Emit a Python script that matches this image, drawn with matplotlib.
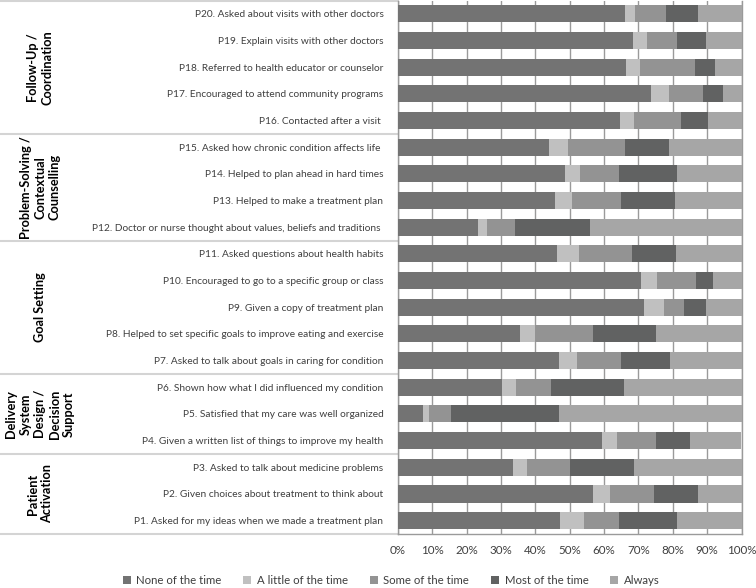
import matplotlib
matplotlib.use("Agg")
import matplotlib.pyplot as plt
import matplotlib.transforms as mtransforms
from matplotlib.patches import Patch
import numpy as np

plt.rcParams['font.family'] = ['Lato', 'DejaVu Sans']

# items, bottom (P1) to top (P20)
items = [
    "P1. Asked for my ideas when we made a treatment plan",
    "P2. Given choices about treatment to think about",
    "P3. Asked to talk about medicine problems",
    "P4. Given a written list of things to improve my health",
    "P5. Satisfied that my care was well organized",
    "P6. Shown how what I did influenced my condition",
    "P7. Asked to talk about goals in caring for condition",
    "P8. Helped to set specific goals to improve eating and exercise",
    "P9. Given a copy of treatment plan",
    "P10. Encouraged to go to a specific group or class",
    "P11. Asked questions about health habits",
    "P12. Doctor or nurse thought about values, beliefs and traditions ",
    "P13. Helped to make a treatment plan",
    "P14. Helped to plan ahead in hard times",
    "P15. Asked how chronic condition affects life ",
    "P16. Contacted after a visit ",
    "P17. Encouraged to attend community programs",
    "P18. Referred to health educator or counselor",
    "P19. Explain visits with other doctors",
    "P20. Asked about visits with other doctors",
]

none_of_time = [47.2, 56.9, 33.6, 59.4, 7.4, 30.3, 47.0, 35.5, 71.5, 70.6,
                46.4, 23.2, 45.8, 48.6, 44.0, 64.7, 73.7, 66.3, 68.3, 66.0]
little_of_time = [6.9, 4.7, 3.9, 4.4, 1.7, 4.1, 5.1, 4.5, 5.8, 4.7,
                  6.4, 2.7, 4.8, 4.3, 5.6, 4.0, 5.1, 4.1, 4.2, 2.9]
some_of_time = [10.3, 12.9, 12.7, 11.2, 6.4, 10.0, 12.8, 16.9, 5.9, 11.4,
                15.3, 8.2, 14.3, 11.5, 16.4, 13.8, 10.0, 16.0, 8.7, 9.2]
most_of_time = [16.8, 12.9, 18.4, 9.9, 31.3, 21.3, 14.2, 18.1, 6.4, 5.0,
                12.8, 21.9, 15.7, 16.8, 12.8, 7.8, 5.7, 6.0, 8.6, 9.1]
always = [18.8, 12.6, 31.4, 15.1, 53.2, 34.3, 20.9, 25.0, 10.4, 8.3,
          19.1, 44.0, 19.4, 18.8, 21.2, 9.7, 5.5, 7.6, 10.2, 12.8]

series_names = ["None of the time", "A little of the time", "Some of the time",
                "Most of the time", "Always"]
colors = ["#737373", "#c0c0c0", "#939393", "#616262", "#a6a6a6"]

# groups: (label, first index, last index)
groups = [
    ("Patient\nActivation", 0, 2),
    ("Delivery\nSystem\nDesign /\nDecision\nSupport", 3, 5),
    ("Goal Setting", 6, 10),
    ("Problem-Solving /\nContextual\nCounselling", 11, 14),
    ("Follow-Up /\nCoordination", 15, 19),
]

text_col = "#3f3f3f"

fig = plt.figure(figsize=(7.56, 5.88), dpi=100)
ax = fig.add_axes([398 / 756, 54 / 588, 343.5 / 756, 533.5 / 588])

y = np.arange(len(items))
left = np.zeros(len(items))
for vals, name, c in zip([none_of_time, little_of_time, some_of_time, most_of_time, always],
                         series_names, colors):
    ax.barh(y, vals, left=left, height=0.64, color=c, label=name, zorder=3)
    left += np.array(vals)

ax.set_xlim(0, 100)
ax.set_ylim(-0.5, len(items) - 0.5)
ax.set_xticks(np.arange(0, 101, 10))
ax.set_xticklabels([f"{v}%" for v in range(0, 101, 10)])
ax.set_yticks(y)
ax.set_yticklabels(items)
ax.tick_params(axis='y', length=0, pad=10.5, labelsize=7.3, labelcolor=text_col)
ax.tick_params(axis='x', length=0, pad=8, labelsize=8.4, labelcolor=text_col)
ax.grid(axis='x', color="#9a9a9a", linewidth=1.0, zorder=0)
for s in ax.spines.values():
    s.set_color("#9a9a9a")
    s.set_linewidth(1.0)
ax.spines['top'].set_visible(False)

# group separators and labels in the label column
trans = mtransforms.blended_transform_factory(ax.transAxes, ax.transData)
x0 = -398 / 343.5
for name, a, b in groups:
    ax.plot([x0, 0], [b + 0.5, b + 0.5], transform=trans, color="#d4d4d4",
            linewidth=1.5, clip_on=False)
    ax.text(x0 + 40 / 343.5, (a + b) / 2, name, transform=trans, rotation=90,
            ha='center', va='center', fontsize=9.2, fontweight='bold',
            color="black", linespacing=1.25)
ax.plot([x0, 0], [-0.5, -0.5], transform=trans, color="#d4d4d4",
        linewidth=1.5, clip_on=False)

handles = [Patch(facecolor=c, edgecolor='none') for c in colors]
fig.legend(handles, series_names, loc='center', bbox_to_anchor=(391 / 756, 8 / 588),
           ncol=5, frameon=False, fontsize=8.2, handlelength=0.7, handleheight=0.7,
           handletextpad=0.5, columnspacing=1.9, labelcolor=text_col)

fig.savefig("out.png", dpi=100)
